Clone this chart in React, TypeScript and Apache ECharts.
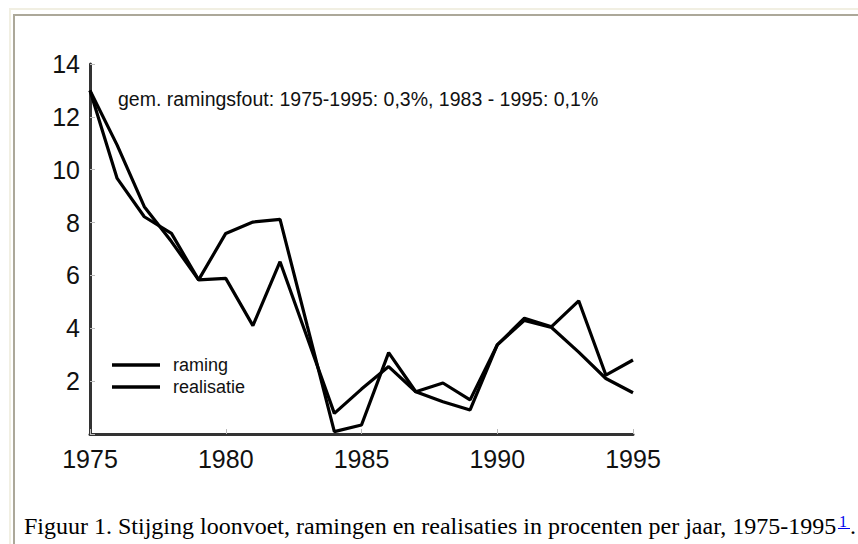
import React, { useEffect, useRef } from "react";
import * as echarts from "echarts";

const years = [1975, 1976, 1977, 1978, 1979, 1980, 1981, 1982, 1983, 1984, 1985, 1986, 1987, 1988, 1989, 1990, 1991, 1992, 1993, 1994, 1995];
const ramingValues = [13.0, 10.93, 8.6, 7.28, 5.83, 7.59, 8.02, 8.12, 4.1, 0.09, 0.34, 3.08, 1.6, 1.22, 0.91, 3.37, 4.38, 4.06, 5.04, 2.23, 2.8];
const realisatieValues = [13.0, 9.67, 8.22, 7.59, 5.83, 5.89, 4.1, 6.52, 3.65, 0.78, 1.7, 2.55, 1.6, 1.93, 1.29, 3.37, 4.3, 4.03, 3.1, 2.1, 1.56];
const seriesNames = ["raming", "realisatie"];
const xTicks = [1975, 1980, 1985, 1990, 1995];
const yTicks = [0, 2, 4, 6, 8, 10, 12, 14];
const annotation = "gem. ramingsfout: 1975-1995: 0,3%, 1983 - 1995: 0,1%";
const captionText = "Figuur 1. Stijging loonvoet, ramingen en realisaties in procenten per jaar, 1975-1995";
const footnoteMark = "1";

const SANS = "'Liberation Sans', Arial, sans-serif";
const SERIF = "'Liberation Serif', 'Times New Roman', serif";

export default function App() {
  const ref = useRef<HTMLDivElement>(null);
  useEffect(() => {
    if (!ref.current) return;
    const chart = echarts.init(ref.current, undefined, { renderer: "svg" });
    const pair = (vals: number[]) => years.map((y, i) => [y, vals[i]]);
    const legendGraphics: any[] = [];
    seriesNames.forEach((name, i) => {
      const cy = i === 0 ? 365 : 387;
      legendGraphics.push({
        type: "line",
        shape: { x1: 112, y1: cy, x2: 160, y2: cy },
        style: { stroke: "#000", lineWidth: 3.5 },
      });
      legendGraphics.push({
        type: "text",
        x: 173,
        y: cy,
        style: { text: name, font: `18px ${SANS}`, fill: "#111", verticalAlign: "middle", align: "left" },
      });
    });
    chart.setOption({
      animation: false,
      backgroundColor: "#fff",
      grid: { left: 90, right: 225, top: 64, bottom: 110, containLabel: false },
      xAxis: {
        type: "value",
        min: 1975,
        max: 1995,
        interval: 5,
        axisLine: { show: true, lineStyle: { color: "#333", width: 3 } },
        axisTick: { show: true, inside: true, length: 5, lineStyle: { color: "#bbb", width: 1 } },
        splitLine: { show: false },
        axisLabel: {
          margin: 12,
          fontSize: 25,
          fontFamily: SANS,
          color: "#111",
          customValues: xTicks,
          formatter: (v: number) => String(v),
        },
      },
      yAxis: {
        type: "value",
        min: 0,
        max: 14,
        interval: 2,
        axisLine: { show: true, lineStyle: { color: "#333", width: 3 } },
        axisTick: { show: true, inside: true, length: 5, lineStyle: { color: "#bbb", width: 1 } },
        splitLine: { show: false },
        axisLabel: {
          margin: 10,
          fontSize: 25,
          fontFamily: SANS,
          color: "#111",
          customValues: yTicks,
          formatter: (v: number) => (v === 0 ? "" : String(v)),
        },
      },
      series: [
        {
          name: seriesNames[0],
          type: "line",
          data: pair(ramingValues),
          symbol: "none",
          lineStyle: { color: "#000", width: 3.2 },
          z: 3,
        },
        {
          name: seriesNames[1],
          type: "line",
          data: pair(realisatieValues),
          symbol: "none",
          lineStyle: { color: "#000", width: 3.2 },
          z: 3,
        },
      ],
      graphic: [
        { type: "rect", shape: { x: 9, y: 8, width: 860, height: 2 }, style: { fill: "#f1efe2" } },
        { type: "rect", shape: { x: 9, y: 8, width: 2, height: 540 }, style: { fill: "#f1efe2" } },
        { type: "rect", shape: { x: 13, y: 14, width: 860, height: 2 }, style: { fill: "#aca899" } },
        { type: "rect", shape: { x: 13, y: 14, width: 2, height: 540 }, style: { fill: "#aca899" } },
        {
          type: "text",
          x: 118,
          y: 99,
          style: { text: annotation, font: `19.5px ${SANS}`, fill: "#111", verticalAlign: "middle", align: "left" },
        },
        ...legendGraphics,
        {
          type: "text",
          x: 24,
          y: 526,
          style: { text: captionText, font: `24px ${SERIF}`, fill: "#000", verticalAlign: "middle", align: "left" },
        },
        {
          type: "text",
          x: 839,
          y: 521,
          style: { text: footnoteMark, font: `16px ${SERIF}`, fill: "#0000ee", verticalAlign: "middle", align: "left" },
        },
        { type: "line", shape: { x1: 838, y1: 528.5, x2: 850, y2: 528.5 }, style: { stroke: "#0000ee", lineWidth: 1 } },
        {
          type: "text",
          x: 850,
          y: 526,
          style: { text: ".", font: `24px ${SERIF}`, fill: "#000", verticalAlign: "middle", align: "left" },
        },
      ],
    });
    return () => chart.dispose();
  }, []);
  return (
    <div
      ref={ref}
      style={{ position: "fixed", left: 0, top: 0, width: 858, height: 544, background: "#fff" }}
    />
  );
}
